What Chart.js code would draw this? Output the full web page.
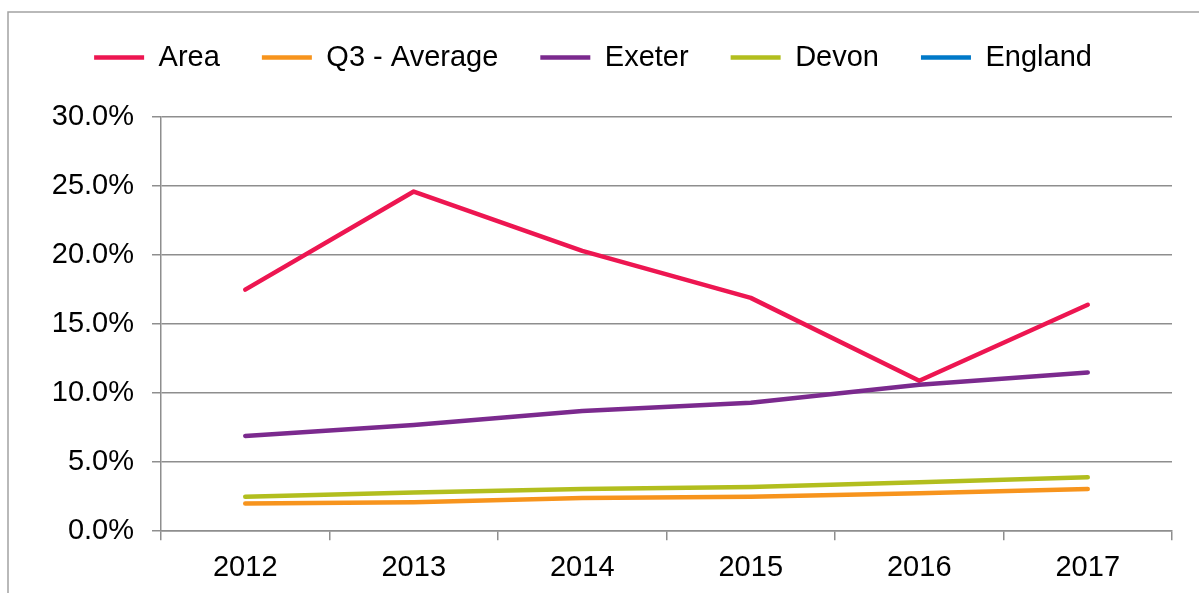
<!DOCTYPE html>
<html>
<head>
<meta charset="utf-8">
<title>Area vs Exeter, Devon, England</title>
<script src="https://cdn.jsdelivr.net/npm/chart.js@4.4.1/dist/chart.umd.min.js"></script>
<style>
    html, body { margin: 0; padding: 0; background: #fff; }
    #wrap { width: 1199px; height: 593px; position: relative; }
</style>
</head>
<body>
<div id="wrap"><canvas id="trendChart"></canvas></div>
<script>
// Data (percent)
const years = ['2012', '2013', '2014', '2015', '2016', '2017'];
const areaValues = [17.5, 24.6, 20.3, 16.9, 10.9, 16.4];
const q3AverageValues = [2.0, 2.1, 2.4, 2.5, 2.75, 3.05];
const exeterValues = [6.9, 7.7, 8.7, 9.3, 10.6, 11.5];
const devonValues = [2.5, 2.8, 3.05, 3.2, 3.55, 3.9];
const englandValues = [null, null, null, null, null, null];
const yTicks = [0, 5, 10, 15, 20, 25, 30];

const GRID = '#8e8e8e';
const FONT = { family: '"Liberation Sans", Arial, sans-serif', size: 29 };

// extra space between legend and plot
const legendSpacer = {
    id: 'legendSpacer',
    beforeInit(chart) {
        const origFit = chart.legend.fit;
        chart.legend.fit = function() {
            origFit.call(this);
            this.height += 35;
        };
    }
};

// outer chart frame (only top/left edges fall inside the window)
const outerFrame = {
    id: 'outerFrame',
    beforeDraw(chart) {
        const ctx = chart.ctx;
        ctx.save();
        ctx.strokeStyle = '#a3a3a3';
        ctx.lineWidth = 1.5;
        ctx.strokeRect(8, 12, 1400, 800);
        ctx.restore();
    }
};

function series(label, data, color, order) {
    return {
        label: label,
        data: data,
        borderColor: color,
        backgroundColor: color,
        borderWidth: 4.5,
        borderCapStyle: 'round',
        borderJoinStyle: 'round',
        pointRadius: 0,
        pointHoverRadius: 0,
        tension: 0,
        fill: false,
        order: order
    };
}

new Chart(document.getElementById('trendChart'), {
    type: 'line',
    data: {
        labels: years,
        datasets: [
            series('Area', areaValues, '#ed1651', 5),
            series('Q3 - Average', q3AverageValues, '#f7941d', 4),
            series('Exeter', exeterValues, '#7b2a8e', 3),
            series('Devon', devonValues, '#b2be1e', 2),
            series('England', englandValues, '#0079c8', 1)
        ]
    },
    options: {
        responsive: true,
        maintainAspectRatio: false,
        animation: false,
        layout: {
            padding: { left: 14, right: 27, top: 1, bottom: -2 }
        },
        plugins: {
            legend: {
                position: 'top',
                labels: {
                    usePointStyle: true,
                    pointStyle: 'line',
                    pointStyleWidth: 50,
                    padding: 42,
                    color: '#000',
                    font: FONT,
                    sort: (a, b) => a.datasetIndex - b.datasetIndex
                }
            },
            tooltip: { enabled: false }
        },
        scales: {
            x: {
                offset: true,
                grid: {
                    offset: true,
                    drawOnChartArea: false,
                    tickLength: 9,
                    color: GRID,
                    lineWidth: 1.5
                },
                border: { color: GRID, width: 1.5 },
                ticks: { color: '#000', font: FONT, padding: 10, maxRotation: 0 }
            },
            y: {
                min: 0,
                max: 30,
                afterFit: function(scale) { scale.width = 147; },
                afterBuildTicks: function(scale) {
                    scale.ticks = yTicks.map(v => ({ value: v }));
                },
                grid: {
                    tickLength: 9,
                    color: GRID,
                    lineWidth: 1.5
                },
                border: { color: GRID, width: 1.5 },
                ticks: {
                    color: '#000',
                    font: FONT,
                    padding: 18,
                    callback: function(value) { return value.toFixed(1) + '%'; }
                }
            }
        }
    },
    plugins: [legendSpacer, outerFrame]
});
</script>
</body>
</html>
